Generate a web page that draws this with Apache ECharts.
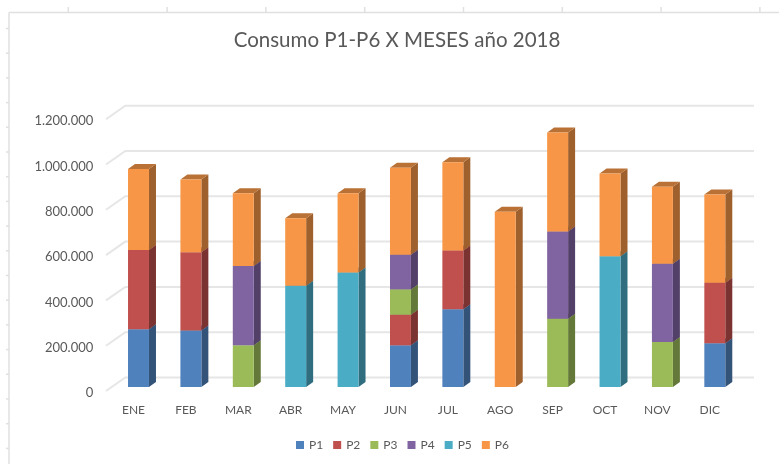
<!DOCTYPE html>
<html>
<head>
<meta charset="utf-8">
<style>
  html, body { margin: 0; padding: 0; background: #fff; }
  #main { width: 779px; height: 464px; }
</style>
<script src="https://cdn.jsdelivr.net/npm/echarts@6/dist/echarts.min.js"></script>
</head>
<body>
<div id="main"></div>
<script>
const months = ['ENE','FEB','MAR','ABR','MAY','JUN','JUL','AGO','SEP','OCT','NOV','DIC'];
const p1 = [255000,249000,0,0,0,184000,343000,0,0,0,0,193000];
const p2 = [350000,346000,0,0,0,135000,260000,0,0,0,0,267000];
const p3 = [0,0,184000,0,0,112000,0,0,301000,0,199000,0];
const p4 = [0,0,350000,0,0,153000,0,0,385000,0,345000,0];
const p5 = [0,0,0,447000,506000,0,0,0,0,577000,0,0];
const p6 = [357000,321000,321000,298000,349000,384000,389000,774000,438000,366000,340000,390000];
const yTicks = [0,200000,400000,600000,800000,1000000,1200000];
const names = ['P1','P2','P3','P4','P5','P6'];
const colors = ['#4F81BD','#C0504D','#9BBB59','#8064A2','#4BACC6','#F79646'];

const FONT = 'Lato';
const DX = 7, DY = 5;          // bar depth
const WALL_X = 13, WALL_Y = 9.5;  // back wall offset

const chart = echarts.init(document.getElementById('main'));

// darker version of a colour for the shaded faces
const shade = (color, f) => {
    const c = echarts.color.parse(color);
    return 'rgb(' + Math.round(c[0] * f) + ',' + Math.round(c[1] * f) + ',' + Math.round(c[2] * f) + ')';
};

// 3D looking column, front + side + top
const barItem = color => (params, api) => {
    const start = api.value(1), end = api.value(2);
    if (start === end) return null;
    const w = api.size([1, 0])[0] * 0.4;
    const base = api.coord([api.value(0), start]);
    const top = api.coord([api.value(0), end]);
    const x0 = base[0] - w / 2, x1 = base[0] + w / 2;
    const y0 = base[1], y1 = top[1];
    return {
        type: 'group',
        children: [
            { type: 'polygon', shape: { points: [[x1,y0],[x1+DX,y0-DY],[x1+DX,y1-DY],[x1,y1]] },
              style: { fill: shade(color, 0.64) } },
            { type: 'polygon', shape: { points: [[x0,y1],[x1,y1],[x1+DX,y1-DY],[x0+DX,y1-DY]] },
              style: { fill: shade(color, 0.75) } },
            { type: 'rect', shape: { x: x0, y: y1, width: w, height: y0 - y1 },
              style: { fill: color } }
        ]
    };
};

const gridItem = (params, api) => {
    const cs = params.coordSys;
    const y = api.coord([0, api.value(1)])[1];
    return {
        type: 'polyline',
        shape: { points: [[cs.x - 6.3, y + 4], [cs.x + WALL_X, y - WALL_Y], [cs.x + cs.width + WALL_X, y - WALL_Y]] },
        style: { fill: null, stroke: '#e6e6e6', lineWidth: 2 }
    };
};

const raw = [p1, p2, p3, p4, p5, p6];
const running = months.map(() => 0);
const barSeries = raw.map((vals, k) => ({
    name: names[k],
    type: 'custom',
    renderItem: barItem(colors[k]),
    itemStyle: { color: colors[k] },
    encode: { x: 0, y: [1, 2] },
    clip: false,
    z: 3,
    data: vals.map((v, i) => {
        const start = running[i];
        running[i] += v;
        return [i, start, running[i]];
    })
}));

// frame with the ruler marks round the picture
const frameStyle = { stroke: '#e0e0e0', lineWidth: 1.5 };
const frame = [
    { type: 'line', shape: { x1: 9, y1: 12.5, x2: 779, y2: 12.5 }, style: frameStyle },
    { type: 'line', shape: { x1: 9, y1: 12.5, x2: 9, y2: 464 }, style: frameStyle }
];
for (let i = 0; i < 8; i++) {
    const x = 68.3 + i * 98.8;
    frame.push({ type: 'line', shape: { x1: x, y1: 7, x2: x, y2: 12 }, style: frameStyle });
}
for (let i = 0; i < 18; i++) {
    const y = 28.5 + i * 24.7;
    frame.push({ type: 'line', shape: { x1: 6, y1: y, x2: 9, y2: y }, style: frameStyle });
}

chart.setOption({
    animation: false,
    backgroundColor: '#fff',
    title: {
        text: 'Consumo P1-P6 X MESES año 2018',
        left: 392, top: 25, textAlign: 'center',
        textStyle: { fontFamily: FONT, fontSize: 20.5, fontWeight: 'normal', color: '#595959' }
    },
    legend: {
        data: names,
        left: 296, top: 439,
        padding: 0,
        icon: 'rect',
        itemWidth: 8, itemHeight: 8, itemGap: 10,
        textStyle: { fontFamily: FONT, fontSize: 12, color: '#595959' }
    },
    grid: { left: 112.3, right: 38, top: 115.2, bottom: 77 },
    xAxis: {
        type: 'category',
        data: months,
        axisLine: { show: false },
        axisTick: { show: false },
        axisLabel: { fontFamily: FONT, fontSize: 12, color: '#595959', margin: 17, padding: [0, 10, 0, 0], interval: 0 }
    },
    yAxis: {
        type: 'value',
        min: 0, max: 1200000, interval: 200000,
        axisLine: { show: false },
        axisTick: { show: false },
        splitLine: { show: false },
        axisLabel: {
            fontFamily: FONT, fontSize: 13, color: '#595959', margin: 19,
            verticalAlign: 'top', lineHeight: 12,
            formatter: v => v.toLocaleString('es-ES', { useGrouping: 'always' }).replace(/,/g, '.')
        }
    },
    graphic: frame,
    series: [{
        type: 'custom',
        renderItem: gridItem,
        encode: { x: 0, y: 1 },
        clip: false,
        z: 1,
        silent: true,
        data: yTicks.map(v => [0, v])
    }].concat(barSeries)
});
</script>
</body>
</html>
